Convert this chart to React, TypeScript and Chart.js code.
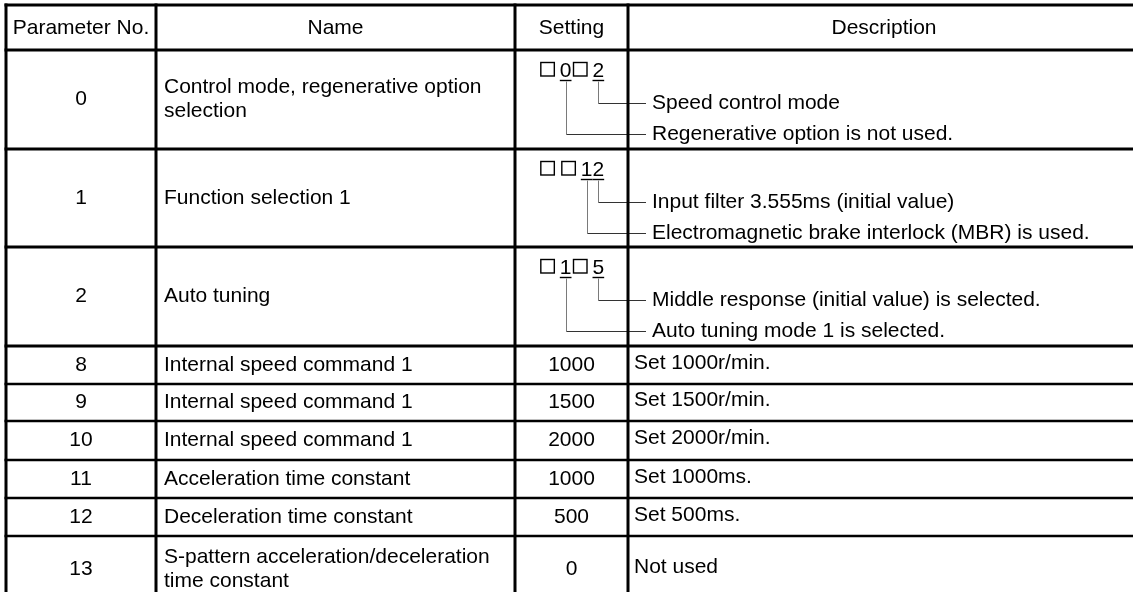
import React, { useEffect, useRef } from "react";
import { Chart, registerables } from "chart.js";

Chart.register(...registerables);

// ---------- table content ----------
const headers = ["Parameter No.", "Name", "Setting", "Description"];
const paramNos = ["0", "1", "2", "8", "9", "10", "11", "12", "13"];
const names: string[][] = [
  ["Control mode, regenerative option", "selection"],
  ["Function selection 1"],
  ["Auto tuning"],
  ["Internal speed command 1"],
  ["Internal speed command 1"],
  ["Internal speed command 1"],
  ["Acceleration time constant"],
  ["Deceleration time constant"],
  ["S-pattern acceleration/deceleration", "time constant"],
];
const settings = ["□0□2", "□□12", "□1□5", "1000", "1500", "2000", "1000", "500", "0"];
const descriptions: string[][] = [
  ["Speed control mode", "Regenerative option is not used."],
  ["Input filter 3.555ms (initial value)", "Electromagnetic brake interlock (MBR) is used."],
  ["Middle response (initial value) is selected.", "Auto tuning mode 1 is selected."],
  ["Set 1000r/min."],
  ["Set 1500r/min."],
  ["Set 2000r/min."],
  ["Set 1000ms."],
  ["Set 500ms."],
  ["Not used"],
];

// ---------- layout (scale units) ----------
const W = 1133;
const H = 592;
const colEdges = [6, 156, 515, 628, 1140];
const rowEdges = [5, 50, 149, 247, 346, 384, 421, 460, 498, 536, 602];
const FONT = '21px "Liberation Sans", Arial, Helvetica, sans-serif';

const tablePlugin = {
  id: "tableDraw",
  afterDraw(chart: any) {
    const ctx: CanvasRenderingContext2D = chart.ctx;
    const xs = chart.scales.x;
    const ys = chart.scales.y;
    const X = (v: number) => xs.getPixelForValue(v);
    const Y = (v: number) => ys.getPixelForValue(v);

    ctx.save();
    ctx.fillStyle = "#ffffff";
    ctx.fillRect(0, 0, chart.width, chart.height);

    const line = (x0: number, y0: number, x1: number, y1: number, w: number, c: string) => {
      ctx.beginPath();
      ctx.strokeStyle = c;
      ctx.lineWidth = w;
      ctx.moveTo(X(x0), Y(y0));
      ctx.lineTo(X(x1), Y(y1));
      ctx.stroke();
    };

    ctx.font = FONT;
    ctx.fillStyle = "#000";
    ctx.textBaseline = "middle";

    const colCenter = (i: number) => (colEdges[i] + colEdges[i + 1]) / 2;

    // header
    ctx.textAlign = "center";
    headers.forEach((h, i) => {
      ctx.fillText(h, X(colCenter(i)), Y((rowEdges[0] + rowEdges[1]) / 2 + 0.5));
    });

    const digitAdv = ctx.measureText("0").width;
    const boxAdv = 21;
    const boxSize = 13.5;

    paramNos.forEach((p, r) => {
      const top = rowEdges[r + 1];
      const bot = rowEdges[r + 2];
      const mid = (top + bot) / 2;

      // parameter no
      ctx.textAlign = "center";
      ctx.fillText(p, X(colCenter(0)), Y(mid));

      // name
      ctx.textAlign = "left";
      const nl = names[r];
      nl.forEach((t, k) => {
        const y = mid + (k - (nl.length - 1) / 2) * 24;
        ctx.fillText(t, X(colEdges[1] + 8), Y(y));
      });

      const s = settings[r];
      if (s.indexOf("□") >= 0) {
        // coded setting with leader lines
        const chars = Array.from(s);
        const total = chars.reduce((a, c) => a + (c === "□" ? boxAdv : digitAdv), 0);
        let x = colCenter(2) - total / 2;
        const digitCenters: number[] = [];
        chars.forEach((c) => {
          if (c === "□") {
            ctx.lineWidth = 1.4;
            ctx.strokeStyle = "#000";
            ctx.strokeRect(X(x + 2), Y(top + 12.5), boxSize, boxSize);
            x += boxAdv;
          } else {
            ctx.textAlign = "center";
            ctx.textBaseline = "alphabetic";
            ctx.fillText(c, X(x + digitAdv / 2), Y(top + 26.5));
            ctx.textBaseline = "middle";
            line(x, top + 30.5, x + digitAdv, top + 30.5, 1.4, "#000");
            digitCenters.push(x + digitAdv / 2);
            x += digitAdv;
          }
        });
        const dl = descriptions[r];
        ctx.textAlign = "left";
        dl.forEach((t, k) => {
          const ly = top + 53 + k * 31;
          const cx = digitCenters[digitCenters.length - 1 - k];
          const cxp = Math.round(cx) + 0.5;
          const lyp = Math.round(ly) + 0.5;
          line(cxp, top + 31.5, cxp, lyp, 1, "#7a7a7a");
          line(cxp, lyp, 646, lyp, 1, "#333");
          ctx.fillText(t, X(652), Y(ly));
        });
      } else {
        ctx.textAlign = "center";
        ctx.fillText(s, X(colCenter(2)), Y(mid));
        ctx.textAlign = "left";
        descriptions[r].forEach((t) => {
          ctx.fillText(t, X(colEdges[3] + 6), Y(mid - 2));
        });
      }
    });

    // grid lines
    rowEdges.forEach((y, i) => {
      const w = i <= 4 ? 3 : 2.5;
      line(colEdges[0] - 1.5, y, colEdges[4], y, w, "#000");
    });
    colEdges.forEach((x) => {
      line(x, rowEdges[0] - 1.5, x, rowEdges[rowEdges.length - 1], 3, "#000");
    });

    ctx.restore();
  },
};

export default function App() {
  const ref = useRef<HTMLCanvasElement | null>(null);
  useEffect(() => {
    if (!ref.current) return;
    const chart = new Chart(ref.current, {
      type: "scatter",
      data: { datasets: [{ data: [] }] },
      options: {
        animation: false,
        responsive: false,
        devicePixelRatio: 1,
        layout: { padding: 0 },
        plugins: { legend: { display: false }, tooltip: { enabled: false } },
        scales: {
          x: { type: "linear", min: 0, max: W, display: false },
          y: { type: "linear", min: 0, max: H, reverse: true, display: false },
        },
      },
      plugins: [tablePlugin],
    });
    return () => chart.destroy();
  }, []);
  return (
    <div style={{ position: "fixed", left: 0, top: 0, width: W, height: H, background: "#fff" }}>
      <canvas ref={ref} width={W} height={H} style={{ display: "block" }} />
    </div>
  );
}
